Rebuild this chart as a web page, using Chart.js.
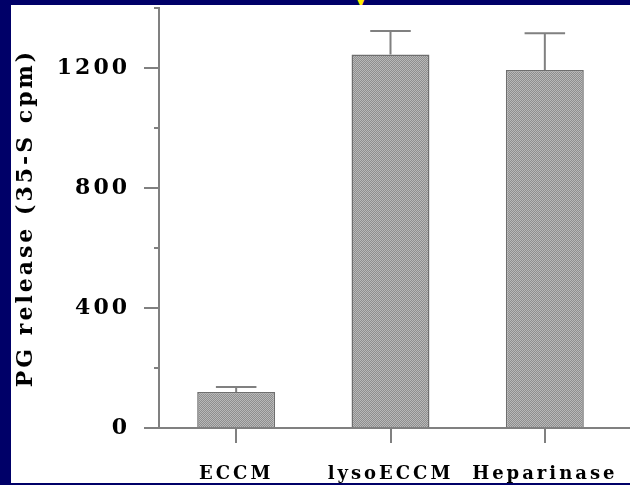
<!DOCTYPE html>
<html>
<head>
<meta charset="utf-8">
<script src="https://cdn.jsdelivr.net/npm/chart.js@4/dist/chart.umd.min.js"></script>
<style>
  body { margin: 0; background: #000068; width: 630px; height: 485px; overflow: hidden; position: relative; }
  #panel { position: absolute; left: 11px; top: 5px; width: 619px; height: 478px; background: #fff; }
  #band { position: absolute; left: 0; top: 0; width: 630px; height: 5px; overflow: hidden; }
  #band span { position: absolute; left: 350px; top: -31px; color: #ffee00; font: bold 36px "DejaVu Serif"; }
  #wrap { position: absolute; left: 0; top: 0; width: 630px; height: 485px; }
</style>
</head>
<body>
<div id="panel"></div>
<div id="band"><span>y</span></div>
<div id="wrap"><canvas id="bar-chart" width="630" height="485"></canvas></div>
<script>
var categories = ["ECCM", "lysoECCM", "Heparinase"];
var releaseValues = [120, 1245, 1193];
var releaseErrors = [17, 78, 123];
var yMajorTicks = [0, 400, 800, 1200];
var yMinorTicks = [200, 600, 1000, 1400];

// stipple fill like the scanned bars
var pc = document.createElement("canvas");
pc.width = 2; pc.height = 2;
var px = pc.getContext("2d");
px.fillStyle = "#8e8e8e"; px.fillRect(0, 0, 2, 2);
px.fillStyle = "#b8b8b8"; px.fillRect(0, 0, 1, 1); px.fillRect(1, 1, 1, 1);
var stipple = px.createPattern(pc, "repeat");

var spacing = {
    id: "spacing",
    beforeLayout: function(chart) { chart.ctx.letterSpacing = "3px"; },
    beforeDraw: function(chart) { chart.ctx.letterSpacing = "3px"; }
};

var extras = {
    id: "extras",
    afterDatasetsDraw: function(chart) {
        var ctx = chart.ctx;
        var y = chart.scales.y;
        var meta = chart.getDatasetMeta(0);
        ctx.save();
        ctx.strokeStyle = "#808080";
        ctx.lineWidth = 2;
        meta.data.forEach(function(bar, i) {
            var top = y.getPixelForValue(releaseValues[i] + releaseErrors[i]);
            var half = bar.width * 0.26;
            ctx.beginPath();
            ctx.moveTo(bar.x, bar.y);
            ctx.lineTo(bar.x, top);
            ctx.moveTo(bar.x - half, top);
            ctx.lineTo(bar.x + half, top);
            ctx.stroke();
        });
        // minor ticks
        yMinorTicks.forEach(function(v) {
            var py = y.getPixelForValue(v);
            ctx.beginPath();
            ctx.moveTo(chart.chartArea.left - 5, py);
            ctx.lineTo(chart.chartArea.left, py);
            ctx.stroke();
        });
        // baseline runs on to the edge
        var y0 = y.getPixelForValue(0);
        ctx.beginPath();
        ctx.moveTo(chart.chartArea.right, y0);
        ctx.lineTo(chart.width, y0);
        ctx.stroke();
        ctx.restore();
    }
};

new Chart(document.getElementById("bar-chart"), {
    type: "bar",
    data: {
        labels: categories,
        datasets: [{
            data: releaseValues,
            backgroundColor: stipple,
            borderColor: "#6e6e6e",
            borderWidth: 1.5,
            categoryPercentage: 1,
            barPercentage: 0.505
        }]
    },
    options: {
        responsive: false,
        animation: false,
        layout: { padding: { top: 8, right: 8, left: 0, bottom: 0 } },
        plugins: { legend: { display: false }, tooltip: { enabled: false } },
        scales: {
            x: {
                afterFit: function(s) { s.height = 57; s.paddingLeft = 0; s.paddingRight = 0; },
                grid: { offset: false, drawOnChartArea: false, tickLength: 15, color: "#808080", lineWidth: 2 },
                border: { color: "#808080", width: 2 },
                ticks: { color: "#000", padding: 21, font: { family: "DejaVu Serif", weight: "bold", size: 18 } }
            },
            y: {
                min: 0,
                max: 1400,
                afterBuildTicks: function(s) { s.ticks = yMajorTicks.map(function(v) { return { value: v }; }); },
                afterFit: function(s) { s.width = 159; s.paddingTop = 0; s.paddingBottom = 0; },
                grid: { drawOnChartArea: false, tickLength: 15, color: "#808080", lineWidth: 2 },
                border: { color: "#808080", width: 2 },
                ticks: {
                    color: "#000",
                    padding: 14,
                    font: { family: "DejaVu Serif", weight: "bold", size: 22 },
                    callback: function(v) { return String(v); }
                },
                title: {
                    display: true,
                    text: "PG release (35-S cpm)",
                    color: "#000",
                    padding: { top: 13, bottom: 0 },
                    font: { family: "DejaVu Serif", weight: "bold", size: 22 }
                }
            }
        }
    },
    plugins: [spacing, extras]
});
</script>
</body>
</html>
